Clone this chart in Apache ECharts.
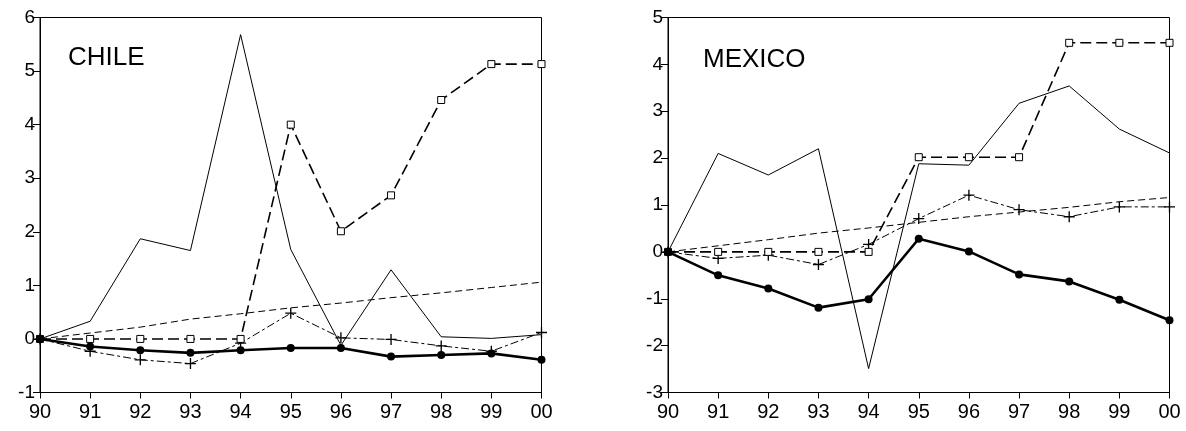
<!DOCTYPE html>
<html><head><meta charset="utf-8">
<script src="https://cdn.jsdelivr.net/npm/echarts@6/dist/echarts.min.js"></script>
<style>html,body{margin:0;padding:0;background:#fff}#c{width:1186px;height:431px}</style>
</head><body><div id="c"></div>
<script>
var years = ['90','91','92','93','94','95','96','97','98','99','00'];
// CHILE
var chileSolid  = [0, 0.33, 1.87, 1.65, 5.68, 1.67, -0.12, 1.29, 0.04, 0.01, 0.08];
var chileSquare = [0, 0, 0, 0, 0, 4.0, 2.01, 2.68, 4.46, 5.13, 5.13];
var chileTrend  = [0, 0.11, 0.22, 0.37, 0.47, 0.58, 0.67, 0.77, 0.86, 0.96, 1.06];
var chilePlus   = [0, -0.23, -0.39, -0.46, -0.08, 0.48, 0.02, -0.01, -0.13, -0.23, 0.12];
var chileDot    = [0, -0.14, -0.21, -0.26, -0.21, -0.17, -0.17, -0.33, -0.30, -0.27, -0.39];
// MEXICO
var mexSolid  = [0, 2.10, 1.64, 2.20, -2.49, 1.88, 1.85, 3.17, 3.54, 2.62, 2.11];
var mexSquare = [0, 0, 0, 0, 0, 2.02, 2.02, 2.02, 4.46, 4.46, 4.46];
var mexTrend  = [0, 0.13, 0.26, 0.40, 0.51, 0.63, 0.75, 0.85, 0.95, 1.07, 1.16];
var mexPlus   = [0, -0.14, -0.07, -0.27, 0.16, 0.71, 1.21, 0.90, 0.75, 0.96, 0.96];
var mexDot    = [0, -0.50, -0.78, -1.19, -1.01, 0.28, 0.01, -0.48, -0.63, -1.02, -1.46];
var titles = ['CHILE', 'MEXICO'];

var FONT = 'Liberation Sans';
var plusPath = 'path://M0,4.4L10,4.4L10,5.6L0,5.6Z M4.4,0L5.6,0L5.6,10L4.4,10Z';

function seriesFor(idx, solid, square, trend, plus, dot) {
  var base = {type:'line', xAxisIndex: idx, yAxisIndex: idx, animation:false, silent:true};
  return [
    Object.assign({}, base, {data: solid, symbol:'none', lineStyle:{color:'#000', width:1}, z:2}),
    Object.assign({}, base, {data: trend, symbol:'none', lineStyle:{color:'#000', width:1, type:[7,4]}, z:2}),
    Object.assign({}, base, {data: plus, symbol: plusPath, symbolSize: 11, showSymbol:true,
      itemStyle:{color:'#000'}, lineStyle:{color:'#000', width:1, type:[8,3,3,3]}, z:3}),
    Object.assign({}, base, {data: square, symbol:'rect', symbolSize: 7, showSymbol:true,
      itemStyle:{color:'#fff', borderColor:'#000', borderWidth:1}, lineStyle:{color:'#000', width:1.6, type:[11,5]}, z:4}),
    Object.assign({}, base, {data: dot, symbol:'circle', symbolSize: 8, showSymbol:true,
      itemStyle:{color:'#000'}, lineStyle:{color:'#000', width:2.6}, z:5})
  ];
}

function xAxis(idx) {
  return {type:'category', gridIndex: idx, data: years, boundaryGap:false,
    axisLine:{onZero:false, lineStyle:{color:'#000', width:1}},
    axisTick:{show:true, length:6, alignWithLabel:true, lineStyle:{color:'#000'}},
    axisLabel:{color:'#000', fontSize:20, fontFamily:FONT, margin:10, interval:0},
    splitLine:{show:false}};
}
function yAxis(idx, min, max) {
  return {type:'value', gridIndex: idx, min:min, max:max, interval:1,
    axisLine:{show:true, onZero:false, lineStyle:{color:'#000', width:1}},
    axisTick:{show:true, length:7, lineStyle:{color:'#000'}},
    axisLabel:{color:'#000', fontSize:19, fontFamily:FONT, margin:5},
    splitLine:{show:false}};
}

var chart = echarts.init(document.getElementById('c'), null, {renderer:'canvas'});
chart.setOption({
  backgroundColor:'#fff',
  animation:false,
  grid:[
    {left:40, top:17.5, width:501.5, height:375, show:true, borderColor:'#000', borderWidth:1, backgroundColor:'#fff'},
    {left:668, top:17.5, width:501.5, height:375, show:true, borderColor:'#000', borderWidth:1, backgroundColor:'#fff'}
  ],
  xAxis:[xAxis(0), xAxis(1)],
  yAxis:[yAxis(0, -1, 6), yAxis(1, -3, 5)],
  graphic:[
    {type:'text', left:68, top:45, z:10, style:{text:titles[0], font:'26px "Liberation Sans"', fill:'#000'}},
    {type:'text', left:703, top:47, z:10, style:{text:titles[1], font:'26px "Liberation Sans"', fill:'#000'}}
  ],
  series: seriesFor(0, chileSolid, chileSquare, chileTrend, chilePlus, chileDot)
    .concat(seriesFor(1, mexSolid, mexSquare, mexTrend, mexPlus, mexDot))
});
</script></body></html>
